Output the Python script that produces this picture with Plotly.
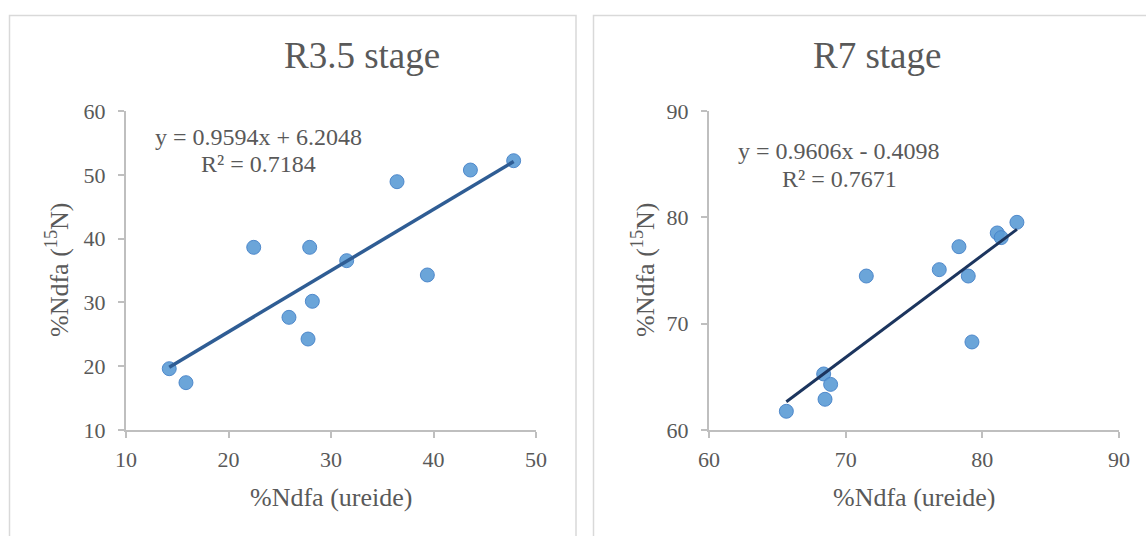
import plotly.graph_objects as go

# ---------------- data ----------------
r35_ureide = [14.22, 15.85, 22.46, 27.92, 31.53, 28.18, 25.90, 27.76, 36.44, 39.40, 43.60, 47.82]
r35_n15 = [19.61, 17.42, 38.63, 38.63, 36.54, 30.17, 27.66, 24.26, 48.92, 34.30, 50.75, 52.21]
r35_slope, r35_intercept = 0.9594, 6.2048
r35_eq = ["y = 0.9594x + 6.2048", "R² = 0.7184"]

r7_ureide = [65.66, 68.39, 68.90, 68.49, 71.51, 76.85, 78.29, 78.97, 79.24, 81.09, 81.38, 82.53]
r7_n15 = [61.76, 65.27, 64.29, 62.89, 74.48, 75.08, 77.24, 74.48, 68.28, 78.53, 78.09, 79.53]
r7_slope, r7_intercept = 0.9606, -0.4098
r7_eq = ["y = 0.9606x - 0.4098", "R² = 0.7671"]

titles = ["R3.5 stage", "R7 stage"]
x_title = "%Ndfa (ureide)"
y_title = "%Ndfa (<sup>15</sup>N)"
r35_xticks = [10, 20, 30, 40, 50]
r35_yticks = [10, 20, 30, 40, 50, 60]
r7_xticks = [60, 70, 80, 90]
r7_yticks = [60, 70, 80, 90]

# ---------------- layout helpers ----------------
W, H = 1146, 536
def px(x):
    return x / W
def py(y):
    return 1 - y / H

FONT = "Liberation Serif"
TXT = "#595959"
AX = "#bfbfbf"
MARK = "rgba(91,155,213,0.9)"
MARK_LINE = "rgba(70,130,200,0.9)"

fig = go.Figure()

def add_panel(xs, ys, slope, intercept, xa, ya, line_color, line_w):
    fig.add_trace(go.Scatter(x=xs, y=ys, mode="markers", xaxis=xa, yaxis=ya,
                             marker=dict(size=14, color=MARK, line=dict(color=MARK_LINE, width=1)),
                             showlegend=False, hoverinfo="x+y"))
    x0, x1 = min(xs), max(xs)
    fig.add_trace(go.Scatter(x=[x0, x1], y=[slope * x0 + intercept, slope * x1 + intercept],
                             mode="lines", xaxis=xa, yaxis=ya,
                             line=dict(color=line_color, width=line_w),
                             showlegend=False, hoverinfo="skip"))

add_panel(r35_ureide, r35_n15, r35_slope, r35_intercept, "x", "y", "#2f5d94", 3.5)
add_panel(r7_ureide, r7_n15, r7_slope, r7_intercept, "x2", "y2", "#1c355e", 3)

axis_common = dict(showline=True, linecolor=AX, linewidth=2, ticks="outside", ticklen=6,
                   tickcolor=AX, tickwidth=2, showgrid=False, zeroline=False,
                   automargin=False,
                   tickfont=dict(family=FONT, size=22, color=TXT), fixedrange=True)

ydom = [py(430), py(111)]
fig.update_layout(
    width=W, height=H, margin=dict(l=0, r=0, t=0, b=0, pad=0, autoexpand=False),
    paper_bgcolor="white", plot_bgcolor="white", showlegend=False,
    xaxis=dict(domain=[px(126), px(536)], range=[10, 50], tickvals=r35_xticks,
               anchor="y", ticklabelstandoff=3, **axis_common),
    yaxis=dict(domain=ydom, range=[10, 60], tickvals=r35_yticks, anchor="x",
               ticklabelstandoff=8, **axis_common),
    xaxis2=dict(domain=[px(709), px(1119)], range=[60, 90], tickvals=r7_xticks,
                anchor="y2", ticklabelstandoff=3, **axis_common),
    yaxis2=dict(domain=ydom, range=[60, 90], tickvals=r7_yticks, anchor="x2",
                ticklabelstandoff=8, **axis_common),
)

# panel borders
for x0, x1 in [(9.5, 576), (593.5, 1150)]:
    fig.add_shape(type="rect", xref="paper", yref="paper",
                  x0=px(x0), x1=px(x1), y0=py(545), y1=py(15.5),
                  line=dict(color="#d9d9d9", width=1.5), fillcolor="rgba(0,0,0,0)", layer="below")

def ann(text, x, y, size, angle=0):
    fig.add_annotation(text=text, x=px(x), y=py(y), xref="paper", yref="paper",
                       xanchor="center", yanchor="middle", showarrow=False, textangle=angle,
                       font=dict(family=FONT, size=size, color=TXT))

ann(titles[0], 362, 56, 37)
ann(titles[1], 877, 56, 37)
ann(r35_eq[0], 258, 137, 24)
ann(r35_eq[1], 258, 164, 24)
ann(r7_eq[0], 839, 151, 24)
ann(r7_eq[1], 839, 179, 24)
ann(x_title, 331, 497, 26)
ann(x_title, 914, 497, 26)
ann(y_title, 57, 270, 26, -90)
ann(y_title, 643, 270, 26, -90)

fig.write_html("out.html", config={"displayModeBar": False},
               post_script="document.body.style.margin='0';document.body.style.overflow='hidden';")
